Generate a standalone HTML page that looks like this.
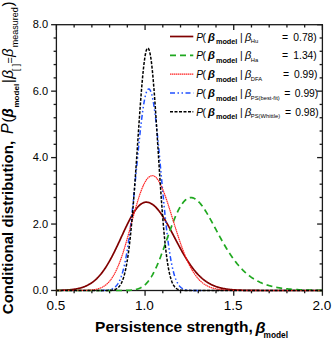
<!DOCTYPE html>
<html><head><meta charset="utf-8"><style>
html,body{margin:0;padding:0;background:#fff;width:332px;height:340px;overflow:hidden;}
svg{display:block;font-family:"Liberation Sans",sans-serif;}
</style></head><body>
<svg width="332" height="340" viewBox="0 0 332 340">
<defs><clipPath id="c"><rect x="56.4" y="22.7" width="266.0" height="269.8"/></clipPath></defs>
<rect width="332" height="340" fill="#fff"/>
<g stroke="#1a1a1a" stroke-width="1.3">
<rect x="56.4" y="24.7" width="266.0" height="265.8" fill="none"/>
<line x1="56.40" y1="290.5" x2="56.40" y2="295.8"/>
<line x1="56.40" y1="24.7" x2="56.40" y2="30.0"/>
<line x1="74.13" y1="290.5" x2="74.13" y2="293.3"/>
<line x1="74.13" y1="24.7" x2="74.13" y2="27.5"/>
<line x1="91.87" y1="290.5" x2="91.87" y2="293.3"/>
<line x1="91.87" y1="24.7" x2="91.87" y2="27.5"/>
<line x1="109.60" y1="290.5" x2="109.60" y2="293.3"/>
<line x1="109.60" y1="24.7" x2="109.60" y2="27.5"/>
<line x1="127.33" y1="290.5" x2="127.33" y2="293.3"/>
<line x1="127.33" y1="24.7" x2="127.33" y2="27.5"/>
<line x1="145.07" y1="290.5" x2="145.07" y2="295.8"/>
<line x1="145.07" y1="24.7" x2="145.07" y2="30.0"/>
<line x1="162.80" y1="290.5" x2="162.80" y2="293.3"/>
<line x1="162.80" y1="24.7" x2="162.80" y2="27.5"/>
<line x1="180.53" y1="290.5" x2="180.53" y2="293.3"/>
<line x1="180.53" y1="24.7" x2="180.53" y2="27.5"/>
<line x1="198.27" y1="290.5" x2="198.27" y2="293.3"/>
<line x1="198.27" y1="24.7" x2="198.27" y2="27.5"/>
<line x1="216.00" y1="290.5" x2="216.00" y2="293.3"/>
<line x1="216.00" y1="24.7" x2="216.00" y2="27.5"/>
<line x1="233.73" y1="290.5" x2="233.73" y2="295.8"/>
<line x1="233.73" y1="24.7" x2="233.73" y2="30.0"/>
<line x1="251.47" y1="290.5" x2="251.47" y2="293.3"/>
<line x1="251.47" y1="24.7" x2="251.47" y2="27.5"/>
<line x1="269.20" y1="290.5" x2="269.20" y2="293.3"/>
<line x1="269.20" y1="24.7" x2="269.20" y2="27.5"/>
<line x1="286.93" y1="290.5" x2="286.93" y2="293.3"/>
<line x1="286.93" y1="24.7" x2="286.93" y2="27.5"/>
<line x1="304.67" y1="290.5" x2="304.67" y2="293.3"/>
<line x1="304.67" y1="24.7" x2="304.67" y2="27.5"/>
<line x1="322.40" y1="290.5" x2="322.40" y2="295.8"/>
<line x1="322.40" y1="24.7" x2="322.40" y2="30.0"/>
<line x1="56.4" y1="290.50" x2="51.1" y2="290.50"/>
<line x1="322.4" y1="290.50" x2="317.09999999999997" y2="290.50"/>
<line x1="56.4" y1="277.21" x2="53.6" y2="277.21"/>
<line x1="322.4" y1="277.21" x2="319.59999999999997" y2="277.21"/>
<line x1="56.4" y1="263.92" x2="53.6" y2="263.92"/>
<line x1="322.4" y1="263.92" x2="319.59999999999997" y2="263.92"/>
<line x1="56.4" y1="250.63" x2="53.6" y2="250.63"/>
<line x1="322.4" y1="250.63" x2="319.59999999999997" y2="250.63"/>
<line x1="56.4" y1="237.34" x2="53.6" y2="237.34"/>
<line x1="322.4" y1="237.34" x2="319.59999999999997" y2="237.34"/>
<line x1="56.4" y1="224.05" x2="51.1" y2="224.05"/>
<line x1="322.4" y1="224.05" x2="317.09999999999997" y2="224.05"/>
<line x1="56.4" y1="210.76" x2="53.6" y2="210.76"/>
<line x1="322.4" y1="210.76" x2="319.59999999999997" y2="210.76"/>
<line x1="56.4" y1="197.47" x2="53.6" y2="197.47"/>
<line x1="322.4" y1="197.47" x2="319.59999999999997" y2="197.47"/>
<line x1="56.4" y1="184.18" x2="53.6" y2="184.18"/>
<line x1="322.4" y1="184.18" x2="319.59999999999997" y2="184.18"/>
<line x1="56.4" y1="170.89" x2="53.6" y2="170.89"/>
<line x1="322.4" y1="170.89" x2="319.59999999999997" y2="170.89"/>
<line x1="56.4" y1="157.60" x2="51.1" y2="157.60"/>
<line x1="322.4" y1="157.60" x2="317.09999999999997" y2="157.60"/>
<line x1="56.4" y1="144.31" x2="53.6" y2="144.31"/>
<line x1="322.4" y1="144.31" x2="319.59999999999997" y2="144.31"/>
<line x1="56.4" y1="131.02" x2="53.6" y2="131.02"/>
<line x1="322.4" y1="131.02" x2="319.59999999999997" y2="131.02"/>
<line x1="56.4" y1="117.73" x2="53.6" y2="117.73"/>
<line x1="322.4" y1="117.73" x2="319.59999999999997" y2="117.73"/>
<line x1="56.4" y1="104.44" x2="53.6" y2="104.44"/>
<line x1="322.4" y1="104.44" x2="319.59999999999997" y2="104.44"/>
<line x1="56.4" y1="91.15" x2="51.1" y2="91.15"/>
<line x1="322.4" y1="91.15" x2="317.09999999999997" y2="91.15"/>
<line x1="56.4" y1="77.86" x2="53.6" y2="77.86"/>
<line x1="322.4" y1="77.86" x2="319.59999999999997" y2="77.86"/>
<line x1="56.4" y1="64.57" x2="53.6" y2="64.57"/>
<line x1="322.4" y1="64.57" x2="319.59999999999997" y2="64.57"/>
<line x1="56.4" y1="51.28" x2="53.6" y2="51.28"/>
<line x1="322.4" y1="51.28" x2="319.59999999999997" y2="51.28"/>
<line x1="56.4" y1="37.99" x2="53.6" y2="37.99"/>
<line x1="322.4" y1="37.99" x2="319.59999999999997" y2="37.99"/>
<line x1="56.4" y1="24.70" x2="51.1" y2="24.70"/>
<line x1="322.4" y1="24.70" x2="317.09999999999997" y2="24.70"/>
</g>
<path d="M56.00,290.39 L56.44,290.39 L56.89,290.38 L57.33,290.37 L57.77,290.36 L58.22,290.35 L58.66,290.34 L59.10,290.33 L59.55,290.32 L59.99,290.31 L60.43,290.30 L60.88,290.28 L61.32,290.27 L61.76,290.25 L62.21,290.24 L62.65,290.22 L63.09,290.20 L63.54,290.19 L63.98,290.17 L64.42,290.15 L64.87,290.12 L65.31,290.10 L65.75,290.08 L66.20,290.05 L66.64,290.02 L67.08,289.99 L67.53,289.96 L67.97,289.93 L68.41,289.90 L68.86,289.86 L69.30,289.83 L69.74,289.79 L70.19,289.75 L70.63,289.70 L71.07,289.66 L71.52,289.61 L71.96,289.56 L72.40,289.51 L72.85,289.45 L73.29,289.39 L73.73,289.33 L74.18,289.27 L74.62,289.20 L75.06,289.13 L75.51,289.06 L75.95,288.98 L76.39,288.90 L76.84,288.82 L77.28,288.73 L77.72,288.64 L78.17,288.55 L78.61,288.45 L79.05,288.34 L79.50,288.23 L79.94,288.12 L80.38,288.00 L80.83,287.88 L81.27,287.75 L81.71,287.62 L82.16,287.48 L82.60,287.33 L83.04,287.18 L83.49,287.02 L83.93,286.86 L84.37,286.69 L84.82,286.52 L85.26,286.33 L85.70,286.14 L86.15,285.95 L86.59,285.74 L87.03,285.53 L87.48,285.31 L87.92,285.08 L88.36,284.85 L88.81,284.60 L89.25,284.35 L89.69,284.09 L90.14,283.82 L90.58,283.54 L91.02,283.25 L91.47,282.96 L91.91,282.65 L92.35,282.33 L92.80,282.00 L93.24,281.67 L93.68,281.32 L94.13,280.96 L94.57,280.59 L95.01,280.21 L95.46,279.82 L95.90,279.42 L96.34,279.01 L96.79,278.58 L97.23,278.14 L97.67,277.69 L98.12,277.23 L98.56,276.76 L99.00,276.28 L99.45,275.78 L99.89,275.27 L100.33,274.75 L100.78,274.21 L101.22,273.67 L101.66,273.11 L102.11,272.53 L102.55,271.95 L102.99,271.35 L103.44,270.74 L103.88,270.12 L104.32,269.48 L104.77,268.83 L105.21,268.17 L105.65,267.49 L106.10,266.81 L106.54,266.11 L106.98,265.40 L107.43,264.67 L107.87,263.93 L108.31,263.18 L108.76,262.42 L109.20,261.65 L109.64,260.87 L110.09,260.07 L110.53,259.26 L110.97,258.45 L111.42,257.62 L111.86,256.78 L112.30,255.93 L112.75,255.07 L113.19,254.20 L113.63,253.33 L114.08,252.44 L114.52,251.55 L114.96,250.64 L115.41,249.73 L115.85,248.82 L116.29,247.89 L116.74,246.96 L117.18,246.03 L117.62,245.09 L118.07,244.14 L118.51,243.19 L118.95,242.24 L119.40,241.28 L119.84,240.32 L120.28,239.36 L120.73,238.39 L121.17,237.43 L121.61,236.46 L122.06,235.50 L122.50,234.54 L122.94,233.58 L123.39,232.62 L123.83,231.66 L124.27,230.71 L124.72,229.76 L125.16,228.82 L125.60,227.88 L126.05,226.95 L126.49,226.02 L126.93,225.11 L127.38,224.20 L127.82,223.30 L128.26,222.41 L128.71,221.54 L129.15,220.67 L129.59,219.82 L130.04,218.98 L130.48,218.15 L130.92,217.33 L131.37,216.53 L131.81,215.75 L132.25,214.98 L132.70,214.23 L133.14,213.50 L133.58,212.79 L134.03,212.09 L134.47,211.41 L134.91,210.76 L135.36,210.12 L135.80,209.50 L136.24,208.91 L136.69,208.34 L137.13,207.79 L137.57,207.26 L138.02,206.76 L138.46,206.29 L138.90,205.83 L139.35,205.40 L139.79,205.00 L140.23,204.62 L140.68,204.27 L141.12,203.95 L141.56,203.65 L142.01,203.38 L142.45,203.13 L142.89,202.92 L143.34,202.73 L143.78,202.57 L144.22,202.43 L144.67,202.33 L145.11,202.25 L145.55,202.20 L146.00,202.18 L146.44,202.18 L146.88,202.20 L147.33,202.25 L147.77,202.32 L148.21,202.41 L148.66,202.52 L149.10,202.66 L149.54,202.81 L149.99,202.99 L150.43,203.19 L150.87,203.41 L151.32,203.65 L151.76,203.91 L152.20,204.19 L152.65,204.49 L153.09,204.81 L153.53,205.16 L153.98,205.52 L154.42,205.90 L154.86,206.30 L155.31,206.72 L155.75,207.16 L156.19,207.62 L156.64,208.09 L157.08,208.59 L157.52,209.10 L157.97,209.62 L158.41,210.17 L158.85,210.73 L159.30,211.30 L159.74,211.90 L160.18,212.50 L160.63,213.12 L161.07,213.76 L161.51,214.41 L161.96,215.07 L162.40,215.75 L162.84,216.43 L163.29,217.13 L163.73,217.85 L164.17,218.57 L164.62,219.30 L165.06,220.04 L165.50,220.80 L165.95,221.56 L166.39,222.33 L166.83,223.11 L167.28,223.90 L167.72,224.69 L168.16,225.49 L168.61,226.30 L169.05,227.11 L169.49,227.93 L169.94,228.75 L170.38,229.58 L170.82,230.41 L171.27,231.25 L171.71,232.08 L172.15,232.93 L172.60,233.77 L173.04,234.61 L173.48,235.46 L173.93,236.30 L174.37,237.15 L174.81,238.00 L175.26,238.84 L175.70,239.69 L176.14,240.53 L176.59,241.38 L177.03,242.22 L177.47,243.05 L177.92,243.89 L178.36,244.72 L178.80,245.55 L179.25,246.37 L179.69,247.19 L180.13,248.01 L180.58,248.82 L181.02,249.62 L181.46,250.42 L181.91,251.22 L182.35,252.00 L182.79,252.79 L183.24,253.56 L183.68,254.33 L184.12,255.09 L184.57,255.84 L185.01,256.59 L185.45,257.33 L185.90,258.06 L186.34,258.78 L186.78,259.49 L187.23,260.20 L187.67,260.90 L188.11,261.58 L188.56,262.26 L189.00,262.93 L189.44,263.59 L189.89,264.25 L190.33,264.89 L190.77,265.52 L191.22,266.14 L191.66,266.76 L192.10,267.36 L192.55,267.96 L192.99,268.54 L193.43,269.12 L193.88,269.68 L194.32,270.24 L194.76,270.78 L195.21,271.32 L195.65,271.84 L196.09,272.36 L196.54,272.86 L196.98,273.36 L197.42,273.85 L197.87,274.32 L198.31,274.79 L198.75,275.25 L199.20,275.70 L199.64,276.13 L200.08,276.56 L200.53,276.98 L200.97,277.39 L201.41,277.79 L201.86,278.18 L202.30,278.57 L202.74,278.94 L203.19,279.30 L203.63,279.66 L204.07,280.01 L204.52,280.35 L204.96,280.68 L205.40,281.00 L205.85,281.31 L206.29,281.62 L206.73,281.91 L207.18,282.20 L207.62,282.49 L208.06,282.76 L208.51,283.03 L208.95,283.29 L209.39,283.54 L209.84,283.78 L210.28,284.02 L210.72,284.25 L211.17,284.48 L211.61,284.69 L212.05,284.91 L212.50,285.11 L212.94,285.31 L213.38,285.50 L213.83,285.69 L214.27,285.87 L214.71,286.05 L215.16,286.21 L215.60,286.38 L216.04,286.54 L216.49,286.69 L216.93,286.84 L217.37,286.98 L217.82,287.12 L218.26,287.26 L218.70,287.39 L219.15,287.51 L219.59,287.63 L220.03,287.75 L220.48,287.86 L220.92,287.97 L221.36,288.08 L221.81,288.18 L222.25,288.28 L222.69,288.37 L223.14,288.46 L223.58,288.55 L224.02,288.63 L224.47,288.71 L224.91,288.79 L225.35,288.86 L225.80,288.94 L226.24,289.00 L226.68,289.07 L227.13,289.13 L227.57,289.20 L228.01,289.25 L228.46,289.31 L228.90,289.37 L229.34,289.42 L229.79,289.47 L230.23,289.51 L230.67,289.56 L231.12,289.60 L231.56,289.65 L232.00,289.69 L232.45,289.73 L232.89,289.76 L233.33,289.80 L233.78,289.83 L234.22,289.86 L234.66,289.90 L235.11,289.92 L235.55,289.95 L235.99,289.98 L236.44,290.01 L236.88,290.03 L237.32,290.05 L237.77,290.08 L238.21,290.10 L238.65,290.12 L239.10,290.14 L239.54,290.16 L239.98,290.17 L240.43,290.19 L240.87,290.21 L241.31,290.22 L241.76,290.24 L242.20,290.25 L242.64,290.26 L243.09,290.28 L243.53,290.29 L243.97,290.30 L244.42,290.31 L244.86,290.32 L245.30,290.33 L245.75,290.34 L246.19,290.35 L246.63,290.36 L247.08,290.36 L247.52,290.37 L247.96,290.38 L248.41,290.39 L248.85,290.39 L249.29,290.40 L249.74,290.40 L250.18,290.41 L250.62,290.42 L251.07,290.42 L251.51,290.42 L251.95,290.43 L252.40,290.43 L252.84,290.44 L253.28,290.44 L253.73,290.44 L254.17,290.45 L254.61,290.45 L255.06,290.45 L255.50,290.46 L255.94,290.46 L256.39,290.46 L256.83,290.46 L257.27,290.47 L257.72,290.47 L258.16,290.47 L258.60,290.47 L259.05,290.47 L259.49,290.48 L259.93,290.48 L260.38,290.48 L260.82,290.48 L261.26,290.48 L261.71,290.48 L262.15,290.48 L262.59,290.48 L263.04,290.49 L263.48,290.49 L263.92,290.49 L264.37,290.49 L264.81,290.49 L265.25,290.49 L265.70,290.49 L266.14,290.49 L266.58,290.49 L267.03,290.49 L267.47,290.49 L267.91,290.49 L268.36,290.49 L268.80,290.49 L269.24,290.49 L269.69,290.49 L270.13,290.50 L270.57,290.50 L271.02,290.50 L271.46,290.50 L271.90,290.50 L272.35,290.50 L272.79,290.50 L273.23,290.50 L273.68,290.50 L274.12,290.50 L274.56,290.50 L275.01,290.50 L275.45,290.50 L275.89,290.50 L276.34,290.50 L276.78,290.50 L277.22,290.50 L277.67,290.50 L278.11,290.50 L278.55,290.50 L279.00,290.50 L279.44,290.50 L279.88,290.50 L280.33,290.50 L280.77,290.50 L281.21,290.50 L281.66,290.50 L282.10,290.50 L282.54,290.50 L282.99,290.50 L283.43,290.50 L283.87,290.50 L284.32,290.50 L284.76,290.50 L285.20,290.50 L285.65,290.50 L286.09,290.50 L286.53,290.50 L286.98,290.50 L287.42,290.50 L287.86,290.50 L288.31,290.50 L288.75,290.50 L289.19,290.50 L289.64,290.50 L290.08,290.50 L290.52,290.50 L290.97,290.50 L291.41,290.50 L291.85,290.50 L292.30,290.50 L292.74,290.50 L293.18,290.50 L293.63,290.50 L294.07,290.50 L294.51,290.50 L294.96,290.50 L295.40,290.50 L295.84,290.50 L296.29,290.50 L296.73,290.50 L297.17,290.50 L297.62,290.50 L298.06,290.50 L298.50,290.50 L298.95,290.50 L299.39,290.50 L299.83,290.50 L300.28,290.50 L300.72,290.50 L301.16,290.50 L301.61,290.50 L302.05,290.50 L302.49,290.50 L302.94,290.50 L303.38,290.50 L303.82,290.50 L304.27,290.50 L304.71,290.50 L305.15,290.50 L305.60,290.50 L306.04,290.50 L306.48,290.50 L306.93,290.50 L307.37,290.50 L307.81,290.50 L308.26,290.50 L308.70,290.50 L309.14,290.50 L309.59,290.50 L310.03,290.50 L310.47,290.50 L310.92,290.50 L311.36,290.50 L311.80,290.50 L312.25,290.50 L312.69,290.50 L313.13,290.50 L313.58,290.50 L314.02,290.50 L314.46,290.50 L314.91,290.50 L315.35,290.50 L315.79,290.50 L316.24,290.50 L316.68,290.50 L317.12,290.50 L317.57,290.50 L318.01,290.50 L318.45,290.50 L318.90,290.50 L319.34,290.50 L319.78,290.50 L320.23,290.50 L320.67,290.50 L321.11,290.50 L321.56,290.50 L322.00,290.50" fill="none" stroke="#800000" stroke-width="1.7" clip-path="url(#c)"/>
<path d="M100.33,290.46 L100.78,290.46 L101.22,290.45 L101.66,290.44 L102.11,290.43 L102.55,290.42 L102.99,290.40 L103.44,290.39 L103.88,290.37 L104.32,290.35 L104.77,290.32 L105.21,290.30 L105.65,290.26 L106.10,290.23 L106.54,290.19 L106.98,290.14 L107.43,290.09 L107.87,290.03 L108.31,289.96 L108.76,289.88 L109.20,289.80 L109.64,289.70 L110.09,289.59 L110.53,289.46 L110.97,289.33 L111.42,289.17 L111.86,289.00 L112.30,288.81 L112.75,288.59 L113.19,288.35 L113.63,288.09 L114.08,287.80 L114.52,287.48 L114.96,287.12 L115.41,286.73 L115.85,286.29 L116.29,285.82 L116.74,285.30 L117.18,284.73 L117.62,284.11 L118.07,283.44 L118.51,282.70 L118.95,281.90 L119.40,281.03 L119.84,280.09 L120.28,279.08 L120.73,277.98 L121.17,276.81 L121.61,275.54 L122.06,274.18 L122.50,272.73 L122.94,271.17 L123.39,269.51 L123.83,267.74 L124.27,265.86 L124.72,263.87 L125.16,261.76 L125.60,259.53 L126.05,257.17 L126.49,254.69 L126.93,252.08 L127.38,249.34 L127.82,246.48 L128.26,243.48 L128.71,240.36 L129.15,237.11 L129.59,233.73 L130.04,230.23 L130.48,226.61 L130.92,222.88 L131.37,219.02 L131.81,215.07 L132.25,211.01 L132.70,206.85 L133.14,202.61 L133.58,198.29 L134.03,193.90 L134.47,189.45 L134.91,184.94 L135.36,180.40 L135.80,175.83 L136.24,171.24 L136.69,166.65 L137.13,162.07 L137.57,157.51 L138.02,152.99 L138.46,148.52 L138.90,144.12 L139.35,139.79 L139.79,135.56 L140.23,131.44 L140.68,127.43 L141.12,123.57 L141.56,119.85 L142.01,116.29 L142.45,112.91 L142.89,109.72 L143.34,106.73 L143.78,103.94 L144.22,101.37 L144.67,99.03 L145.11,96.92 L145.55,95.06 L146.00,93.43 L146.44,92.06 L146.88,90.95 L147.33,90.08 L147.77,89.47 L148.21,89.11 L148.66,88.99 L149.10,89.07 L149.54,89.36 L149.99,89.88 L150.43,90.65 L150.87,91.67 L151.32,92.95 L151.76,94.49 L152.20,96.29 L152.65,98.35 L153.09,100.66 L153.53,103.22 L153.98,106.01 L154.42,109.04 L154.86,112.29 L155.31,115.74 L155.75,119.40 L156.19,123.24 L156.64,127.26 L157.08,131.43 L157.52,135.74 L157.97,140.17 L158.41,144.72 L158.85,149.36 L159.30,154.08 L159.74,158.85 L160.18,163.67 L160.63,168.52 L161.07,173.38 L161.51,178.24 L161.96,183.07 L162.40,187.88 L162.84,192.63 L163.29,197.33 L163.73,201.95 L164.17,206.49 L164.62,210.94 L165.06,215.28 L165.50,219.51 L165.95,223.62 L166.39,227.60 L166.83,231.45 L167.28,235.17 L167.72,238.74 L168.16,242.17 L168.61,245.45 L169.05,248.59 L169.49,251.57 L169.94,254.41 L170.38,257.11 L170.82,259.66 L171.27,262.06 L171.71,264.33 L172.15,266.46 L172.60,268.46 L173.04,270.32 L173.48,272.07 L173.93,273.69 L174.37,275.20 L174.81,276.60 L175.26,277.90 L175.70,279.10 L176.14,280.20 L176.59,281.21 L177.03,282.14 L177.47,282.99 L177.92,283.77 L178.36,284.48 L178.80,285.12 L179.25,285.70 L179.69,286.23 L180.13,286.71 L180.58,287.14 L181.02,287.53 L181.46,287.88 L181.91,288.19 L182.35,288.47 L182.79,288.72 L183.24,288.94 L183.68,289.13 L184.12,289.31 L184.57,289.46 L185.01,289.60 L185.45,289.72 L185.90,289.82 L186.34,289.91 L186.78,289.99 L187.23,290.06 L187.67,290.13 L188.11,290.18 L188.56,290.23 L189.00,290.27 L189.44,290.30 L189.89,290.33 L190.33,290.36 L190.77,290.38 L191.22,290.40 L191.66,290.41 L192.10,290.43 L192.55,290.44 L192.99,290.45 L193.43,290.46 L193.88,290.46 L194.32,290.47 L194.76,290.47 L195.21,290.48 L195.65,290.48 L196.09,290.49 L196.54,290.49 L196.98,290.49 L197.42,290.49 L197.87,290.49 L198.31,290.49 L198.75,290.50 L199.20,290.50 L199.64,290.50 L200.08,290.50 L200.53,290.50 L200.97,290.50 L201.41,290.50" fill="none" stroke="#2050ff" stroke-width="1.5" stroke-dasharray="5 2.5 1.5 2.5 1.5 2.5" clip-path="url(#c)"/>
<path d="M56.00,290.50 L56.44,290.50 L56.89,290.50 L57.33,290.50 L57.77,290.50 L58.22,290.50 L58.66,290.50 L59.10,290.50 L59.55,290.50 L59.99,290.50 L60.43,290.50 L60.88,290.50 L61.32,290.50 L61.76,290.50 L62.21,290.50 L62.65,290.50 L63.09,290.50 L63.54,290.50 L63.98,290.50 L64.42,290.50 L64.87,290.50 L65.31,290.50 L65.75,290.50 L66.20,290.50 L66.64,290.50 L67.08,290.50 L67.53,290.50 L67.97,290.50 L68.41,290.50 L68.86,290.50 L69.30,290.50 L69.74,290.50 L70.19,290.50 L70.63,290.50 L71.07,290.50 L71.52,290.50 L71.96,290.50 L72.40,290.50 L72.85,290.50 L73.29,290.50 L73.73,290.50 L74.18,290.50 L74.62,290.50 L75.06,290.50 L75.51,290.50 L75.95,290.50 L76.39,290.50 L76.84,290.50 L77.28,290.50 L77.72,290.50 L78.17,290.50 L78.61,290.50 L79.05,290.50 L79.50,290.50 L79.94,290.50 L80.38,290.50 L80.83,290.50 L81.27,290.50 L81.71,290.50 L82.16,290.50 L82.60,290.50 L83.04,290.50 L83.49,290.50 L83.93,290.50 L84.37,290.50 L84.82,290.50 L85.26,290.50 L85.70,290.50 L86.15,290.50 L86.59,290.50 L87.03,290.50 L87.48,290.50 L87.92,290.50 L88.36,290.50 L88.81,290.50 L89.25,290.50 L89.69,290.50 L90.14,290.50 L90.58,290.50 L91.02,290.50 L91.47,290.50 L91.91,290.50 L92.35,290.50 L92.80,290.50 L93.24,290.50 L93.68,290.50 L94.13,290.50 L94.57,290.50 L95.01,290.50 L95.46,290.50 L95.90,290.50 L96.34,290.50 L96.79,290.50 L97.23,290.50 L97.67,290.50 L98.12,290.50 L98.56,290.50 L99.00,290.50 L99.45,290.50 L99.89,290.50 L100.33,290.50 L100.78,290.50 L101.22,290.50 L101.66,290.50 L102.11,290.50 L102.55,290.50 L102.99,290.50 L103.44,290.50 L103.88,290.50 L104.32,290.50 L104.77,290.50 L105.21,290.50 L105.65,290.50 L106.10,290.50 L106.54,290.50 L106.98,290.50 L107.43,290.50 L107.87,290.50 L108.31,290.50 L108.76,290.50 L109.20,290.50 L109.64,290.50 L110.09,290.50 L110.53,290.50 L110.97,290.50 L111.42,290.50 L111.86,290.50 L112.30,290.50 L112.75,290.50 L113.19,290.50 L113.63,290.50 L114.08,290.50 L114.52,290.50 L114.96,290.50 L115.41,290.50 L115.85,290.50 L116.29,290.50 L116.74,290.50 L117.18,290.50 L117.62,290.50 L118.07,290.50 L118.51,290.50 L118.95,290.50 L119.40,290.50 L119.84,290.49 L120.28,290.49 L120.73,290.49 L121.17,290.49 L121.61,290.49 L122.06,290.49 L122.50,290.48 L122.94,290.48 L123.39,290.48 L123.83,290.47 L124.27,290.47 L124.72,290.46 L125.16,290.45 L125.60,290.45 L126.05,290.44 L126.49,290.43 L126.93,290.42 L127.38,290.40 L127.82,290.39 L128.26,290.37 L128.71,290.35 L129.15,290.33 L129.59,290.31 L130.04,290.28 L130.48,290.25 L130.92,290.22 L131.37,290.18 L131.81,290.14 L132.25,290.09 L132.70,290.04 L133.14,289.99 L133.58,289.92 L134.03,289.86 L134.47,289.78 L134.91,289.70 L135.36,289.61 L135.80,289.52 L136.24,289.41 L136.69,289.30 L137.13,289.18 L137.57,289.04 L138.02,288.90 L138.46,288.75 L138.90,288.58 L139.35,288.40 L139.79,288.21 L140.23,288.00 L140.68,287.79 L141.12,287.55 L141.56,287.30 L142.01,287.04 L142.45,286.76 L142.89,286.46 L143.34,286.14 L143.78,285.81 L144.22,285.45 L144.67,285.08 L145.11,284.69 L145.55,284.27 L146.00,283.84 L146.44,283.38 L146.88,282.91 L147.33,282.41 L147.77,281.89 L148.21,281.34 L148.66,280.77 L149.10,280.18 L149.54,279.57 L149.99,278.93 L150.43,278.27 L150.87,277.58 L151.32,276.87 L151.76,276.13 L152.20,275.37 L152.65,274.59 L153.09,273.78 L153.53,272.95 L153.98,272.09 L154.42,271.21 L154.86,270.31 L155.31,269.39 L155.75,268.44 L156.19,267.47 L156.64,266.48 L157.08,265.47 L157.52,264.43 L157.97,263.38 L158.41,262.31 L158.85,261.22 L159.30,260.11 L159.74,258.99 L160.18,257.84 L160.63,256.69 L161.07,255.52 L161.51,254.33 L161.96,253.14 L162.40,251.93 L162.84,250.71 L163.29,249.48 L163.73,248.25 L164.17,247.01 L164.62,245.76 L165.06,244.50 L165.50,243.25 L165.95,241.98 L166.39,240.72 L166.83,239.46 L167.28,238.20 L167.72,236.94 L168.16,235.68 L168.61,234.43 L169.05,233.18 L169.49,231.94 L169.94,230.71 L170.38,229.49 L170.82,228.28 L171.27,227.08 L171.71,225.89 L172.15,224.71 L172.60,223.55 L173.04,222.41 L173.48,221.28 L173.93,220.17 L174.37,219.07 L174.81,218.00 L175.26,216.95 L175.70,215.92 L176.14,214.91 L176.59,213.92 L177.03,212.96 L177.47,212.02 L177.92,211.11 L178.36,210.23 L178.80,209.37 L179.25,208.53 L179.69,207.73 L180.13,206.96 L180.58,206.21 L181.02,205.49 L181.46,204.80 L181.91,204.15 L182.35,203.52 L182.79,202.92 L183.24,202.36 L183.68,201.83 L184.12,201.32 L184.57,200.85 L185.01,200.42 L185.45,200.01 L185.90,199.63 L186.34,199.29 L186.78,198.98 L187.23,198.70 L187.67,198.46 L188.11,198.24 L188.56,198.06 L189.00,197.91 L189.44,197.79 L189.89,197.70 L190.33,197.64 L190.77,197.61 L191.22,197.61 L191.66,197.64 L192.10,197.71 L192.55,197.80 L192.99,197.91 L193.43,198.06 L193.88,198.24 L194.32,198.44 L194.76,198.67 L195.21,198.92 L195.65,199.20 L196.09,199.51 L196.54,199.84 L196.98,200.19 L197.42,200.57 L197.87,200.97 L198.31,201.40 L198.75,201.84 L199.20,202.31 L199.64,202.80 L200.08,203.30 L200.53,203.83 L200.97,204.37 L201.41,204.94 L201.86,205.52 L202.30,206.12 L202.74,206.73 L203.19,207.36 L203.63,208.01 L204.07,208.66 L204.52,209.34 L204.96,210.02 L205.40,210.72 L205.85,211.43 L206.29,212.15 L206.73,212.88 L207.18,213.63 L207.62,214.38 L208.06,215.14 L208.51,215.91 L208.95,216.68 L209.39,217.47 L209.84,218.26 L210.28,219.05 L210.72,219.85 L211.17,220.66 L211.61,221.47 L212.05,222.29 L212.50,223.10 L212.94,223.92 L213.38,224.75 L213.83,225.57 L214.27,226.40 L214.71,227.23 L215.16,228.06 L215.60,228.89 L216.04,229.72 L216.49,230.55 L216.93,231.37 L217.37,232.20 L217.82,233.02 L218.26,233.85 L218.70,234.67 L219.15,235.49 L219.59,236.30 L220.03,237.11 L220.48,237.92 L220.92,238.72 L221.36,239.52 L221.81,240.32 L222.25,241.11 L222.69,241.89 L223.14,242.67 L223.58,243.45 L224.02,244.22 L224.47,244.98 L224.91,245.74 L225.35,246.49 L225.80,247.23 L226.24,247.97 L226.68,248.70 L227.13,249.43 L227.57,250.14 L228.01,250.85 L228.46,251.56 L228.90,252.25 L229.34,252.94 L229.79,253.62 L230.23,254.30 L230.67,254.96 L231.12,255.62 L231.56,256.27 L232.00,256.91 L232.45,257.55 L232.89,258.17 L233.33,258.79 L233.78,259.40 L234.22,260.00 L234.66,260.60 L235.11,261.18 L235.55,261.76 L235.99,262.33 L236.44,262.89 L236.88,263.44 L237.32,263.99 L237.77,264.52 L238.21,265.05 L238.65,265.57 L239.10,266.09 L239.54,266.59 L239.98,267.09 L240.43,267.58 L240.87,268.06 L241.31,268.53 L241.76,269.00 L242.20,269.46 L242.64,269.91 L243.09,270.35 L243.53,270.78 L243.97,271.21 L244.42,271.63 L244.86,272.04 L245.30,272.45 L245.75,272.85 L246.19,273.24 L246.63,273.62 L247.08,274.00 L247.52,274.37 L247.96,274.73 L248.41,275.09 L248.85,275.43 L249.29,275.78 L249.74,276.11 L250.18,276.44 L250.62,276.77 L251.07,277.08 L251.51,277.39 L251.95,277.70 L252.40,278.00 L252.84,278.29 L253.28,278.58 L253.73,278.86 L254.17,279.13 L254.61,279.40 L255.06,279.67 L255.50,279.92 L255.94,280.18 L256.39,280.43 L256.83,280.67 L257.27,280.91 L257.72,281.14 L258.16,281.37 L258.60,281.59 L259.05,281.81 L259.49,282.02 L259.93,282.23 L260.38,282.43 L260.82,282.63 L261.26,282.82 L261.71,283.02 L262.15,283.20 L262.59,283.38 L263.04,283.56 L263.48,283.74 L263.92,283.91 L264.37,284.07 L264.81,284.23 L265.25,284.39 L265.70,284.55 L266.14,284.70 L266.58,284.85 L267.03,284.99 L267.47,285.13 L267.91,285.27 L268.36,285.41 L268.80,285.54 L269.24,285.67 L269.69,285.79 L270.13,285.91 L270.57,286.03 L271.02,286.15 L271.46,286.26 L271.90,286.37 L272.35,286.48 L272.79,286.59 L273.23,286.69 L273.68,286.79 L274.12,286.89 L274.56,286.99 L275.01,287.08 L275.45,287.17 L275.89,287.26 L276.34,287.34 L276.78,287.43 L277.22,287.51 L277.67,287.59 L278.11,287.67 L278.55,287.75 L279.00,287.82 L279.44,287.89 L279.88,287.96 L280.33,288.03 L280.77,288.10 L281.21,288.16 L281.66,288.23 L282.10,288.29 L282.54,288.35 L282.99,288.41 L283.43,288.47 L283.87,288.52 L284.32,288.58 L284.76,288.63 L285.20,288.68 L285.65,288.73 L286.09,288.78 L286.53,288.83 L286.98,288.87 L287.42,288.92 L287.86,288.96 L288.31,289.01 L288.75,289.05 L289.19,289.09 L289.64,289.13 L290.08,289.17 L290.52,289.20 L290.97,289.24 L291.41,289.28 L291.85,289.31 L292.30,289.34 L292.74,289.38 L293.18,289.41 L293.63,289.44 L294.07,289.47 L294.51,289.50 L294.96,289.53 L295.40,289.55 L295.84,289.58 L296.29,289.61 L296.73,289.63 L297.17,289.66 L297.62,289.68 L298.06,289.70 L298.50,289.73 L298.95,289.75 L299.39,289.77 L299.83,289.79 L300.28,289.81 L300.72,289.83 L301.16,289.85 L301.61,289.87 L302.05,289.89 L302.49,289.91 L302.94,289.92 L303.38,289.94 L303.82,289.96 L304.27,289.97 L304.71,289.99 L305.15,290.00 L305.60,290.02 L306.04,290.03 L306.48,290.04 L306.93,290.06 L307.37,290.07 L307.81,290.08 L308.26,290.10 L308.70,290.11 L309.14,290.12 L309.59,290.13 L310.03,290.14 L310.47,290.15 L310.92,290.16 L311.36,290.17 L311.80,290.18 L312.25,290.19 L312.69,290.20 L313.13,290.21 L313.58,290.22 L314.02,290.23 L314.46,290.23 L314.91,290.24 L315.35,290.25 L315.79,290.26 L316.24,290.26 L316.68,290.27 L317.12,290.28 L317.57,290.28 L318.01,290.29 L318.45,290.30 L318.90,290.30 L319.34,290.31 L319.78,290.31 L320.23,290.32 L320.67,290.33 L321.11,290.33 L321.56,290.34 L322.00,290.34" fill="none" stroke="#1fa81f" stroke-width="1.7" stroke-dasharray="6 4" clip-path="url(#c)"/>
<path d="M56.00,290.50 L56.44,290.50 L56.89,290.50 L57.33,290.50 L57.77,290.50 L58.22,290.50 L58.66,290.50 L59.10,290.50 L59.55,290.50 L59.99,290.50 L60.43,290.50 L60.88,290.50 L61.32,290.50 L61.76,290.50 L62.21,290.50 L62.65,290.50 L63.09,290.50 L63.54,290.50 L63.98,290.50 L64.42,290.50 L64.87,290.50 L65.31,290.50 L65.75,290.50 L66.20,290.50 L66.64,290.50 L67.08,290.50 L67.53,290.50 L67.97,290.50 L68.41,290.50 L68.86,290.50 L69.30,290.50 L69.74,290.50 L70.19,290.50 L70.63,290.50 L71.07,290.50 L71.52,290.49 L71.96,290.49 L72.40,290.49 L72.85,290.49 L73.29,290.49 L73.73,290.49 L74.18,290.49 L74.62,290.49 L75.06,290.49 L75.51,290.49 L75.95,290.48 L76.39,290.48 L76.84,290.48 L77.28,290.48 L77.72,290.47 L78.17,290.47 L78.61,290.47 L79.05,290.46 L79.50,290.46 L79.94,290.46 L80.38,290.45 L80.83,290.45 L81.27,290.44 L81.71,290.43 L82.16,290.43 L82.60,290.42 L83.04,290.41 L83.49,290.40 L83.93,290.39 L84.37,290.38 L84.82,290.37 L85.26,290.35 L85.70,290.34 L86.15,290.32 L86.59,290.31 L87.03,290.29 L87.48,290.27 L87.92,290.25 L88.36,290.22 L88.81,290.20 L89.25,290.17 L89.69,290.14 L90.14,290.10 L90.58,290.07 L91.02,290.03 L91.47,289.98 L91.91,289.94 L92.35,289.89 L92.80,289.84 L93.24,289.78 L93.68,289.72 L94.13,289.65 L94.57,289.58 L95.01,289.50 L95.46,289.42 L95.90,289.33 L96.34,289.24 L96.79,289.14 L97.23,289.03 L97.67,288.91 L98.12,288.79 L98.56,288.66 L99.00,288.52 L99.45,288.37 L99.89,288.21 L100.33,288.04 L100.78,287.86 L101.22,287.67 L101.66,287.46 L102.11,287.25 L102.55,287.02 L102.99,286.78 L103.44,286.52 L103.88,286.25 L104.32,285.97 L104.77,285.67 L105.21,285.35 L105.65,285.01 L106.10,284.66 L106.54,284.29 L106.98,283.90 L107.43,283.49 L107.87,283.06 L108.31,282.61 L108.76,282.14 L109.20,281.65 L109.64,281.13 L110.09,280.59 L110.53,280.03 L110.97,279.44 L111.42,278.83 L111.86,278.19 L112.30,277.53 L112.75,276.83 L113.19,276.12 L113.63,275.37 L114.08,274.60 L114.52,273.79 L114.96,272.96 L115.41,272.10 L115.85,271.21 L116.29,270.30 L116.74,269.35 L117.18,268.37 L117.62,267.36 L118.07,266.32 L118.51,265.26 L118.95,264.16 L119.40,263.03 L119.84,261.87 L120.28,260.69 L120.73,259.47 L121.17,258.23 L121.61,256.96 L122.06,255.66 L122.50,254.33 L122.94,252.98 L123.39,251.60 L123.83,250.20 L124.27,248.77 L124.72,247.32 L125.16,245.85 L125.60,244.35 L126.05,242.84 L126.49,241.31 L126.93,239.76 L127.38,238.19 L127.82,236.61 L128.26,235.02 L128.71,233.41 L129.15,231.80 L129.59,230.17 L130.04,228.54 L130.48,226.91 L130.92,225.27 L131.37,223.62 L131.81,221.98 L132.25,220.34 L132.70,218.71 L133.14,217.08 L133.58,215.45 L134.03,213.84 L134.47,212.24 L134.91,210.65 L135.36,209.08 L135.80,207.52 L136.24,205.99 L136.69,204.47 L137.13,202.98 L137.57,201.51 L138.02,200.07 L138.46,198.66 L138.90,197.28 L139.35,195.93 L139.79,194.61 L140.23,193.33 L140.68,192.09 L141.12,190.88 L141.56,189.72 L142.01,188.59 L142.45,187.51 L142.89,186.47 L143.34,185.47 L143.78,184.53 L144.22,183.62 L144.67,182.77 L145.11,181.96 L145.55,181.20 L146.00,180.49 L146.44,179.84 L146.88,179.23 L147.33,178.67 L147.77,178.16 L148.21,177.70 L148.66,177.29 L149.10,176.93 L149.54,176.61 L149.99,176.35 L150.43,176.13 L150.87,175.96 L151.32,175.83 L151.76,175.75 L152.20,175.70 L152.65,175.68 L153.09,175.72 L153.53,175.82 L153.98,175.99 L154.42,176.21 L154.86,176.49 L155.31,176.82 L155.75,177.21 L156.19,177.65 L156.64,178.14 L157.08,178.68 L157.52,179.27 L157.97,179.91 L158.41,180.59 L158.85,181.32 L159.30,182.09 L159.74,182.90 L160.18,183.76 L160.63,184.65 L161.07,185.59 L161.51,186.56 L161.96,187.56 L162.40,188.61 L162.84,189.68 L163.29,190.78 L163.73,191.92 L164.17,193.08 L164.62,194.27 L165.06,195.49 L165.50,196.73 L165.95,197.99 L166.39,199.27 L166.83,200.58 L167.28,201.90 L167.72,203.24 L168.16,204.59 L168.61,205.96 L169.05,207.34 L169.49,208.73 L169.94,210.13 L170.38,211.54 L170.82,212.96 L171.27,214.38 L171.71,215.81 L172.15,217.24 L172.60,218.67 L173.04,220.10 L173.48,221.53 L173.93,222.96 L174.37,224.38 L174.81,225.81 L175.26,227.22 L175.70,228.63 L176.14,230.04 L176.59,231.43 L177.03,232.82 L177.47,234.19 L177.92,235.55 L178.36,236.91 L178.80,238.25 L179.25,239.57 L179.69,240.88 L180.13,242.18 L180.58,243.46 L181.02,244.73 L181.46,245.98 L181.91,247.21 L182.35,248.42 L182.79,249.62 L183.24,250.80 L183.68,251.96 L184.12,253.10 L184.57,254.22 L185.01,255.32 L185.45,256.40 L185.90,257.45 L186.34,258.49 L186.78,259.51 L187.23,260.51 L187.67,261.49 L188.11,262.44 L188.56,263.37 L189.00,264.29 L189.44,265.18 L189.89,266.05 L190.33,266.90 L190.77,267.73 L191.22,268.54 L191.66,269.33 L192.10,270.09 L192.55,270.84 L192.99,271.57 L193.43,272.28 L193.88,272.96 L194.32,273.63 L194.76,274.28 L195.21,274.91 L195.65,275.52 L196.09,276.11 L196.54,276.69 L196.98,277.24 L197.42,277.78 L197.87,278.30 L198.31,278.81 L198.75,279.29 L199.20,279.76 L199.64,280.22 L200.08,280.66 L200.53,281.08 L200.97,281.49 L201.41,281.89 L201.86,282.27 L202.30,282.64 L202.74,282.99 L203.19,283.33 L203.63,283.66 L204.07,283.97 L204.52,284.27 L204.96,284.56 L205.40,284.84 L205.85,285.11 L206.29,285.37 L206.73,285.61 L207.18,285.85 L207.62,286.08 L208.06,286.30 L208.51,286.50 L208.95,286.70 L209.39,286.89 L209.84,287.08 L210.28,287.25 L210.72,287.42 L211.17,287.58 L211.61,287.73 L212.05,287.87 L212.50,288.01 L212.94,288.14 L213.38,288.27 L213.83,288.39 L214.27,288.50 L214.71,288.61 L215.16,288.71 L215.60,288.81 L216.04,288.91 L216.49,289.00 L216.93,289.08 L217.37,289.16 L217.82,289.24 L218.26,289.31 L218.70,289.38 L219.15,289.44 L219.59,289.50 L220.03,289.56 L220.48,289.62 L220.92,289.67 L221.36,289.72 L221.81,289.77 L222.25,289.81 L222.69,289.85 L223.14,289.89 L223.58,289.93 L224.02,289.96 L224.47,290.00 L224.91,290.03 L225.35,290.06 L225.80,290.09 L226.24,290.11 L226.68,290.14 L227.13,290.16 L227.57,290.18 L228.01,290.20 L228.46,290.22 L228.90,290.24 L229.34,290.26 L229.79,290.27 L230.23,290.29 L230.67,290.30 L231.12,290.32 L231.56,290.33 L232.00,290.34 L232.45,290.35 L232.89,290.36 L233.33,290.37 L233.78,290.38 L234.22,290.39 L234.66,290.40 L235.11,290.40 L235.55,290.41 L235.99,290.42 L236.44,290.42 L236.88,290.43 L237.32,290.43 L237.77,290.44 L238.21,290.44 L238.65,290.45 L239.10,290.45 L239.54,290.45 L239.98,290.46 L240.43,290.46 L240.87,290.46 L241.31,290.47 L241.76,290.47 L242.20,290.47 L242.64,290.47 L243.09,290.48 L243.53,290.48 L243.97,290.48 L244.42,290.48 L244.86,290.48 L245.30,290.48 L245.75,290.48 L246.19,290.49 L246.63,290.49 L247.08,290.49 L247.52,290.49 L247.96,290.49 L248.41,290.49 L248.85,290.49 L249.29,290.49 L249.74,290.49 L250.18,290.49 L250.62,290.49 L251.07,290.49 L251.51,290.49 L251.95,290.50 L252.40,290.50 L252.84,290.50 L253.28,290.50 L253.73,290.50 L254.17,290.50 L254.61,290.50 L255.06,290.50 L255.50,290.50 L255.94,290.50 L256.39,290.50 L256.83,290.50 L257.27,290.50 L257.72,290.50 L258.16,290.50 L258.60,290.50 L259.05,290.50 L259.49,290.50 L259.93,290.50 L260.38,290.50 L260.82,290.50 L261.26,290.50 L261.71,290.50 L262.15,290.50 L262.59,290.50 L263.04,290.50 L263.48,290.50 L263.92,290.50 L264.37,290.50 L264.81,290.50 L265.25,290.50 L265.70,290.50 L266.14,290.50 L266.58,290.50 L267.03,290.50 L267.47,290.50 L267.91,290.50 L268.36,290.50 L268.80,290.50 L269.24,290.50 L269.69,290.50 L270.13,290.50 L270.57,290.50 L271.02,290.50 L271.46,290.50 L271.90,290.50 L272.35,290.50 L272.79,290.50 L273.23,290.50 L273.68,290.50 L274.12,290.50 L274.56,290.50 L275.01,290.50 L275.45,290.50 L275.89,290.50 L276.34,290.50 L276.78,290.50 L277.22,290.50 L277.67,290.50 L278.11,290.50 L278.55,290.50 L279.00,290.50 L279.44,290.50 L279.88,290.50 L280.33,290.50 L280.77,290.50 L281.21,290.50 L281.66,290.50 L282.10,290.50 L282.54,290.50 L282.99,290.50 L283.43,290.50 L283.87,290.50 L284.32,290.50 L284.76,290.50 L285.20,290.50 L285.65,290.50 L286.09,290.50 L286.53,290.50 L286.98,290.50 L287.42,290.50 L287.86,290.50 L288.31,290.50 L288.75,290.50 L289.19,290.50 L289.64,290.50 L290.08,290.50 L290.52,290.50 L290.97,290.50 L291.41,290.50 L291.85,290.50 L292.30,290.50 L292.74,290.50 L293.18,290.50 L293.63,290.50 L294.07,290.50 L294.51,290.50 L294.96,290.50 L295.40,290.50 L295.84,290.50 L296.29,290.50 L296.73,290.50 L297.17,290.50 L297.62,290.50 L298.06,290.50 L298.50,290.50 L298.95,290.50 L299.39,290.50 L299.83,290.50 L300.28,290.50 L300.72,290.50 L301.16,290.50 L301.61,290.50 L302.05,290.50 L302.49,290.50 L302.94,290.50 L303.38,290.50 L303.82,290.50 L304.27,290.50 L304.71,290.50 L305.15,290.50 L305.60,290.50 L306.04,290.50 L306.48,290.50 L306.93,290.50 L307.37,290.50 L307.81,290.50 L308.26,290.50 L308.70,290.50 L309.14,290.50 L309.59,290.50 L310.03,290.50 L310.47,290.50 L310.92,290.50 L311.36,290.50 L311.80,290.50 L312.25,290.50 L312.69,290.50 L313.13,290.50 L313.58,290.50 L314.02,290.50 L314.46,290.50 L314.91,290.50 L315.35,290.50 L315.79,290.50 L316.24,290.50 L316.68,290.50 L317.12,290.50 L317.57,290.50 L318.01,290.50 L318.45,290.50 L318.90,290.50 L319.34,290.50 L319.78,290.50 L320.23,290.50 L320.67,290.50 L321.11,290.50 L321.56,290.50 L322.00,290.50" fill="none" stroke="#ff2020" stroke-width="1.2" stroke-dasharray="1.5 0.5" clip-path="url(#c)"/>
<path d="M56.00,290.50 L56.44,290.50 L56.89,290.50 L57.33,290.50 L57.77,290.50 L58.22,290.50 L58.66,290.50 L59.10,290.50 L59.55,290.50 L59.99,290.50 L60.43,290.50 L60.88,290.50 L61.32,290.50 L61.76,290.50 L62.21,290.50 L62.65,290.50 L63.09,290.50 L63.54,290.50 L63.98,290.50 L64.42,290.50 L64.87,290.50 L65.31,290.50 L65.75,290.50 L66.20,290.50 L66.64,290.50 L67.08,290.50 L67.53,290.50 L67.97,290.50 L68.41,290.50 L68.86,290.50 L69.30,290.50 L69.74,290.50 L70.19,290.50 L70.63,290.50 L71.07,290.50 L71.52,290.50 L71.96,290.50 L72.40,290.50 L72.85,290.50 L73.29,290.50 L73.73,290.50 L74.18,290.50 L74.62,290.50 L75.06,290.50 L75.51,290.50 L75.95,290.50 L76.39,290.50 L76.84,290.50 L77.28,290.50 L77.72,290.50 L78.17,290.50 L78.61,290.50 L79.05,290.50 L79.50,290.50 L79.94,290.50 L80.38,290.50 L80.83,290.50 L81.27,290.50 L81.71,290.50 L82.16,290.50 L82.60,290.50 L83.04,290.50 L83.49,290.50 L83.93,290.50 L84.37,290.50 L84.82,290.50 L85.26,290.50 L85.70,290.50 L86.15,290.50 L86.59,290.50 L87.03,290.50 L87.48,290.50 L87.92,290.50 L88.36,290.50 L88.81,290.50 L89.25,290.50 L89.69,290.50 L90.14,290.50 L90.58,290.50 L91.02,290.50 L91.47,290.50 L91.91,290.50 L92.35,290.50 L92.80,290.50 L93.24,290.50 L93.68,290.50 L94.13,290.50 L94.57,290.50 L95.01,290.50 L95.46,290.50 L95.90,290.50 L96.34,290.50 L96.79,290.50 L97.23,290.50 L97.67,290.50 L98.12,290.50 L98.56,290.50 L99.00,290.50 L99.45,290.50 L99.89,290.50 L100.33,290.50 L100.78,290.50 L101.22,290.50 L101.66,290.50 L102.11,290.49 L102.55,290.49 L102.99,290.49 L103.44,290.49 L103.88,290.49 L104.32,290.48 L104.77,290.48 L105.21,290.48 L105.65,290.47 L106.10,290.46 L106.54,290.46 L106.98,290.45 L107.43,290.44 L107.87,290.42 L108.31,290.41 L108.76,290.39 L109.20,290.37 L109.64,290.34 L110.09,290.32 L110.53,290.28 L110.97,290.24 L111.42,290.19 L111.86,290.14 L112.30,290.08 L112.75,290.00 L113.19,289.92 L113.63,289.82 L114.08,289.71 L114.52,289.58 L114.96,289.43 L115.41,289.26 L115.85,289.07 L116.29,288.84 L116.74,288.59 L117.18,288.31 L117.62,287.99 L118.07,287.62 L118.51,287.21 L118.95,286.75 L119.40,286.23 L119.84,285.66 L120.28,285.01 L120.73,284.30 L121.17,283.50 L121.61,282.62 L122.06,281.64 L122.50,280.56 L122.94,279.38 L123.39,278.08 L123.83,276.66 L124.27,275.10 L124.72,273.41 L125.16,271.56 L125.60,269.56 L126.05,267.40 L126.49,265.07 L126.93,262.55 L127.38,259.85 L127.82,256.96 L128.26,253.87 L128.71,250.58 L129.15,247.08 L129.59,243.37 L130.04,239.44 L130.48,235.30 L130.92,230.94 L131.37,226.37 L131.81,221.59 L132.25,216.61 L132.70,211.42 L133.14,206.04 L133.58,200.47 L134.03,194.73 L134.47,188.83 L134.91,182.78 L135.36,176.61 L135.80,170.32 L136.24,163.93 L136.69,157.48 L137.13,150.98 L137.57,144.45 L138.02,137.92 L138.46,131.42 L138.90,124.97 L139.35,118.60 L139.79,112.34 L140.23,106.22 L140.68,100.27 L141.12,94.52 L141.56,88.99 L142.01,83.71 L142.45,78.71 L142.89,74.02 L143.34,69.65 L143.78,65.64 L144.22,62.01 L144.67,58.76 L145.11,55.93 L145.55,53.52 L146.00,51.54 L146.44,50.01 L146.88,48.93 L147.33,48.30 L147.77,48.11 L148.21,48.29 L148.66,48.86 L149.10,49.84 L149.54,51.27 L149.99,53.14 L150.43,55.46 L150.87,58.23 L151.32,61.43 L151.76,65.07 L152.20,69.12 L152.65,73.57 L153.09,78.39 L153.53,83.56 L153.98,89.06 L154.42,94.85 L154.86,100.91 L155.31,107.20 L155.75,113.69 L156.19,120.35 L156.64,127.14 L157.08,134.03 L157.52,140.99 L157.97,147.97 L158.41,154.96 L158.85,161.92 L159.30,168.81 L159.74,175.62 L160.18,182.31 L160.63,188.87 L161.07,195.26 L161.51,201.48 L161.96,207.49 L162.40,213.30 L162.84,218.87 L163.29,224.22 L163.73,229.32 L164.17,234.17 L164.62,238.77 L165.06,243.12 L165.50,247.21 L165.95,251.05 L166.39,254.64 L166.83,257.99 L167.28,261.11 L167.72,264.00 L168.16,266.66 L168.61,269.11 L169.05,271.37 L169.49,273.43 L169.94,275.30 L170.38,277.01 L170.82,278.56 L171.27,279.96 L171.71,281.22 L172.15,282.35 L172.60,283.36 L173.04,284.26 L173.48,285.07 L173.93,285.78 L174.37,286.41 L174.81,286.97 L175.26,287.46 L175.70,287.89 L176.14,288.26 L176.59,288.59 L177.03,288.87 L177.47,289.11 L177.92,289.32 L178.36,289.51 L178.80,289.66 L179.25,289.80 L179.69,289.91 L180.13,290.01 L180.58,290.09 L181.02,290.16 L181.46,290.22 L181.91,290.27 L182.35,290.31 L182.79,290.34 L183.24,290.37 L183.68,290.39 L184.12,290.41 L184.57,290.43 L185.01,290.44 L185.45,290.45 L185.90,290.46 L186.34,290.47 L186.78,290.48 L187.23,290.48 L187.67,290.48 L188.11,290.49 L188.56,290.49 L189.00,290.49 L189.44,290.49 L189.89,290.50 L190.33,290.50 L190.77,290.50 L191.22,290.50 L191.66,290.50 L192.10,290.50 L192.55,290.50 L192.99,290.50 L193.43,290.50 L193.88,290.50 L194.32,290.50 L194.76,290.50 L195.21,290.50 L195.65,290.50 L196.09,290.50 L196.54,290.50 L196.98,290.50 L197.42,290.50 L197.87,290.50 L198.31,290.50 L198.75,290.50 L199.20,290.50 L199.64,290.50 L200.08,290.50 L200.53,290.50 L200.97,290.50 L201.41,290.50 L201.86,290.50 L202.30,290.50 L202.74,290.50 L203.19,290.50 L203.63,290.50 L204.07,290.50 L204.52,290.50 L204.96,290.50 L205.40,290.50 L205.85,290.50 L206.29,290.50 L206.73,290.50 L207.18,290.50 L207.62,290.50 L208.06,290.50 L208.51,290.50 L208.95,290.50 L209.39,290.50 L209.84,290.50 L210.28,290.50 L210.72,290.50 L211.17,290.50 L211.61,290.50 L212.05,290.50 L212.50,290.50 L212.94,290.50 L213.38,290.50 L213.83,290.50 L214.27,290.50 L214.71,290.50 L215.16,290.50 L215.60,290.50 L216.04,290.50 L216.49,290.50 L216.93,290.50 L217.37,290.50 L217.82,290.50 L218.26,290.50 L218.70,290.50 L219.15,290.50 L219.59,290.50 L220.03,290.50 L220.48,290.50 L220.92,290.50 L221.36,290.50 L221.81,290.50 L222.25,290.50 L222.69,290.50 L223.14,290.50 L223.58,290.50 L224.02,290.50 L224.47,290.50 L224.91,290.50 L225.35,290.50 L225.80,290.50 L226.24,290.50 L226.68,290.50 L227.13,290.50 L227.57,290.50 L228.01,290.50 L228.46,290.50 L228.90,290.50 L229.34,290.50 L229.79,290.50 L230.23,290.50 L230.67,290.50 L231.12,290.50 L231.56,290.50 L232.00,290.50 L232.45,290.50 L232.89,290.50 L233.33,290.50 L233.78,290.50 L234.22,290.50 L234.66,290.50 L235.11,290.50 L235.55,290.50 L235.99,290.50 L236.44,290.50 L236.88,290.50 L237.32,290.50 L237.77,290.50 L238.21,290.50 L238.65,290.50 L239.10,290.50 L239.54,290.50 L239.98,290.50 L240.43,290.50 L240.87,290.50 L241.31,290.50 L241.76,290.50 L242.20,290.50 L242.64,290.50 L243.09,290.50 L243.53,290.50 L243.97,290.50 L244.42,290.50 L244.86,290.50 L245.30,290.50 L245.75,290.50 L246.19,290.50 L246.63,290.50 L247.08,290.50 L247.52,290.50 L247.96,290.50 L248.41,290.50 L248.85,290.50 L249.29,290.50 L249.74,290.50 L250.18,290.50 L250.62,290.50 L251.07,290.50 L251.51,290.50 L251.95,290.50 L252.40,290.50 L252.84,290.50 L253.28,290.50 L253.73,290.50 L254.17,290.50 L254.61,290.50 L255.06,290.50 L255.50,290.50 L255.94,290.50 L256.39,290.50 L256.83,290.50 L257.27,290.50 L257.72,290.50 L258.16,290.50 L258.60,290.50 L259.05,290.50 L259.49,290.50 L259.93,290.50 L260.38,290.50 L260.82,290.50 L261.26,290.50 L261.71,290.50 L262.15,290.50 L262.59,290.50 L263.04,290.50 L263.48,290.50 L263.92,290.50 L264.37,290.50 L264.81,290.50 L265.25,290.50 L265.70,290.50 L266.14,290.50 L266.58,290.50 L267.03,290.50 L267.47,290.50 L267.91,290.50 L268.36,290.50 L268.80,290.50 L269.24,290.50 L269.69,290.50 L270.13,290.50 L270.57,290.50 L271.02,290.50 L271.46,290.50 L271.90,290.50 L272.35,290.50 L272.79,290.50 L273.23,290.50 L273.68,290.50 L274.12,290.50 L274.56,290.50 L275.01,290.50 L275.45,290.50 L275.89,290.50 L276.34,290.50 L276.78,290.50 L277.22,290.50 L277.67,290.50 L278.11,290.50 L278.55,290.50 L279.00,290.50 L279.44,290.50 L279.88,290.50 L280.33,290.50 L280.77,290.50 L281.21,290.50 L281.66,290.50 L282.10,290.50 L282.54,290.50 L282.99,290.50 L283.43,290.50 L283.87,290.50 L284.32,290.50 L284.76,290.50 L285.20,290.50 L285.65,290.50 L286.09,290.50 L286.53,290.50 L286.98,290.50 L287.42,290.50 L287.86,290.50 L288.31,290.50 L288.75,290.50 L289.19,290.50 L289.64,290.50 L290.08,290.50 L290.52,290.50 L290.97,290.50 L291.41,290.50 L291.85,290.50 L292.30,290.50 L292.74,290.50 L293.18,290.50 L293.63,290.50 L294.07,290.50 L294.51,290.50 L294.96,290.50 L295.40,290.50 L295.84,290.50 L296.29,290.50 L296.73,290.50 L297.17,290.50 L297.62,290.50 L298.06,290.50 L298.50,290.50 L298.95,290.50 L299.39,290.50 L299.83,290.50 L300.28,290.50 L300.72,290.50 L301.16,290.50 L301.61,290.50 L302.05,290.50 L302.49,290.50 L302.94,290.50 L303.38,290.50 L303.82,290.50 L304.27,290.50 L304.71,290.50 L305.15,290.50 L305.60,290.50 L306.04,290.50 L306.48,290.50 L306.93,290.50 L307.37,290.50 L307.81,290.50 L308.26,290.50 L308.70,290.50 L309.14,290.50 L309.59,290.50 L310.03,290.50 L310.47,290.50 L310.92,290.50 L311.36,290.50 L311.80,290.50 L312.25,290.50 L312.69,290.50 L313.13,290.50 L313.58,290.50 L314.02,290.50 L314.46,290.50 L314.91,290.50 L315.35,290.50 L315.79,290.50 L316.24,290.50 L316.68,290.50 L317.12,290.50 L317.57,290.50 L318.01,290.50 L318.45,290.50 L318.90,290.50 L319.34,290.50 L319.78,290.50 L320.23,290.50 L320.67,290.50 L321.11,290.50 L321.56,290.50 L322.00,290.50" fill="none" stroke="#000000" stroke-width="1.5" stroke-dasharray="3 1.5" clip-path="url(#c)"/>
<g font-size="13.5" fill="#000"><text x="55.80" y="310" text-anchor="middle">0.5</text><text x="144.47" y="310" text-anchor="middle">1.0</text><text x="233.13" y="310" text-anchor="middle">1.5</text><text x="321.80" y="310" text-anchor="middle">2.0</text><text x="48" y="294.10" text-anchor="end" font-size="11">0.0</text><text x="48" y="227.65" text-anchor="end" font-size="11">2.0</text><text x="48" y="161.20" text-anchor="end" font-size="11">4.0</text><text x="48" y="94.75" text-anchor="end" font-size="11">6.0</text><text x="48" y="28.30" text-anchor="end" font-size="11">8.0</text></g>
<line x1="170" y1="36.50" x2="193.3" y2="36.50" stroke="#800000" stroke-width="1.7"/>
<text y="40.50" font-size="10.3"><tspan x="196.3" font-style="italic">P</tspan><tspan x="202.6">(</tspan><tspan x="207.9" font-size="11.2" font-weight="bold" font-style="italic">β</tspan><tspan x="215.9" y="44.20" font-weight="bold" font-size="7.3">model</tspan><tspan x="240" y="40.50">|</tspan><tspan x="244.9" font-size="11" font-style="italic">β</tspan><tspan x="250.8" y="43.10" font-size="5.8">Hu</tspan><tspan x="282.0" y="40.50" font-size="10.5">=</tspan><tspan x="293.3">0.78)</tspan></text>
<line x1="170" y1="55.30" x2="193.3" y2="55.30" stroke="#1fa81f" stroke-width="1.7" stroke-dasharray="6 4"/>
<text y="59.30" font-size="10.3"><tspan x="196.3" font-style="italic">P</tspan><tspan x="202.6">(</tspan><tspan x="207.9" font-size="11.2" font-weight="bold" font-style="italic">β</tspan><tspan x="215.9" y="63.00" font-weight="bold" font-size="7.3">model</tspan><tspan x="240" y="59.30">|</tspan><tspan x="244.9" font-size="11" font-style="italic">β</tspan><tspan x="250.8" y="61.90" font-size="5.8">Ha</tspan><tspan x="282.0" y="59.30" font-size="10.5">=</tspan><tspan x="293.3">1.34)</tspan></text>
<line x1="170" y1="74.10" x2="193.3" y2="74.10" stroke="#ff2020" stroke-width="1.2" stroke-dasharray="1.5 0.5"/>
<text y="78.10" font-size="10.3"><tspan x="196.3" font-style="italic">P</tspan><tspan x="202.6">(</tspan><tspan x="207.9" font-size="11.2" font-weight="bold" font-style="italic">β</tspan><tspan x="215.9" y="81.80" font-weight="bold" font-size="7.3">model</tspan><tspan x="240" y="78.10">|</tspan><tspan x="244.9" font-size="11" font-style="italic">β</tspan><tspan x="250.8" y="80.70" font-size="5.8">DFA</tspan><tspan x="283.0" y="78.10" font-size="10.5">=</tspan><tspan x="294.0">0.99)</tspan></text>
<line x1="170" y1="92.90" x2="193.3" y2="92.90" stroke="#2050ff" stroke-width="1.5" stroke-dasharray="5 2.5 1.5 2.5 1.5 2.5"/>
<text y="96.90" font-size="10.3"><tspan x="196.3" font-style="italic">P</tspan><tspan x="202.6">(</tspan><tspan x="207.9" font-size="11.2" font-weight="bold" font-style="italic">β</tspan><tspan x="215.9" y="100.60" font-weight="bold" font-size="7.3">model</tspan><tspan x="240" y="96.90">|</tspan><tspan x="244.9" font-size="11" font-style="italic">β</tspan><tspan x="250.8" y="99.50" font-size="5.8">PS(best-fit)</tspan><tspan x="284.2" y="96.90" font-size="10.5">=</tspan><tspan x="294.8">0.99)</tspan></text>
<line x1="170" y1="111.70" x2="193.3" y2="111.70" stroke="#000000" stroke-width="1.5" stroke-dasharray="3 1.5"/>
<text y="115.70" font-size="10.3"><tspan x="196.3" font-style="italic">P</tspan><tspan x="202.6">(</tspan><tspan x="207.9" font-size="11.2" font-weight="bold" font-style="italic">β</tspan><tspan x="215.9" y="119.40" font-weight="bold" font-size="7.3">model</tspan><tspan x="240" y="115.70">|</tspan><tspan x="244.9" font-size="11" font-style="italic">β</tspan><tspan x="250.8" y="118.30" font-size="5.8">PS(Whittle)</tspan><tspan x="285.0" y="115.70" font-size="10.5">=</tspan><tspan x="295.2">0.98)</tspan></text>
<text x="95.1" y="331.8" font-size="15.5" font-weight="bold">Persistence strength,</text>
<text transform="translate(255.4,333) scale(1.15,1)" font-size="14" font-weight="bold" font-style="italic">β</text>
<text x="263.6" y="338.2" font-size="8.3" font-weight="bold">model</text>
<text transform="translate(13.2,313.6) rotate(-90)" font-size="15"><tspan x="-0.6" y="0" font-weight="bold">Conditional distribution,</tspan><tspan x="179.6" font-size="16" font-style="italic">P</tspan><tspan x="191.2">(</tspan><tspan x="196.2" font-weight="bold" font-style="italic">β</tspan><tspan x="206" y="5.9" font-weight="bold" font-size="8.1">model</tspan><tspan x="230.6" y="0">|</tspan><tspan x="234.8" font-size="15.5" font-style="italic">β</tspan><tspan x="242.3" y="6" font-size="9">[ ]</tspan><tspan x="250.2" y="0.8" font-size="11">=</tspan><tspan x="256.6" y="0" font-size="15" font-style="italic">β</tspan><tspan x="266.3" y="4.4" font-size="9">measured</tspan><tspan x="307" y="0">)</tspan></text>
</svg>
</body></html>
